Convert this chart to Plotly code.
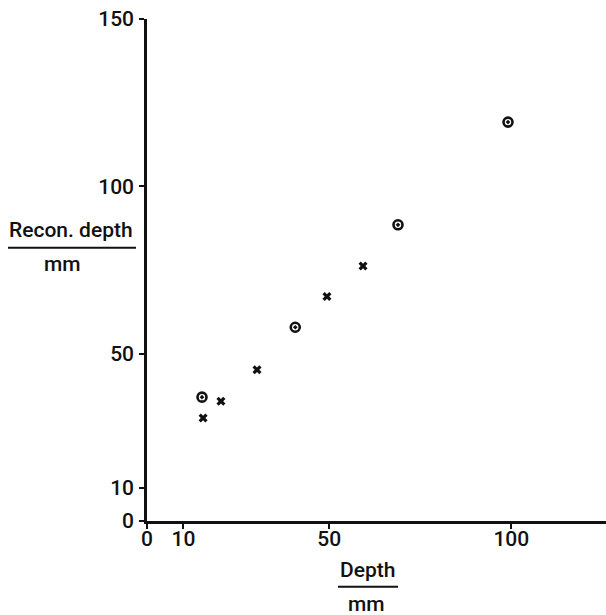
import plotly.graph_objects as go

# Data
circle_x = [15.1, 40.7, 68.9, 99.1]
circle_y = [37.0, 57.9, 88.5, 119.2]
cross_x = [15.4, 20.3, 30.2, 49.4, 59.3]
cross_y = [30.8, 35.8, 45.2, 67.1, 76.2]

x_ticks = [0, 10, 50, 100]
y_ticks = [0, 10, 50, 100, 150]

W, H = 606, 615
ML, MR, MT, MB = 147, 0, 19, 94
PW, PH = W - ML - MR, H - MT - MB

def px(p):
    return (p - ML) / PW

def py(p):
    return (H - MB - p) / PH

FONT = "Roboto"
INK = "#111111"
FS = 21
WEIGHT = 500

fig = go.Figure()
fig.add_trace(go.Scatter(
    x=circle_x, y=circle_y, mode="markers",
    marker=dict(symbol="circle-open-dot", size=9, color=INK,
                line=dict(width=2.6, color=INK)),
    showlegend=False, hoverinfo="skip"))
fig.add_trace(go.Scatter(
    x=cross_x, y=cross_y, mode="markers",
    marker=dict(symbol="x", size=8, color=INK, line=dict(width=0)),
    showlegend=False, hoverinfo="skip"))

tick_font = dict(family=FONT, size=FS, color=INK, weight=WEIGHT)
axis_common = dict(showgrid=False, zeroline=False, showline=True,
                   linecolor=INK, linewidth=2.5, ticks="outside",
                   ticklen=5, tickwidth=1.5, tickcolor=INK,
                   tickfont=tick_font)
fig.update_xaxes(range=[0, 126], tickmode="array", tickvals=x_ticks,
                 ticktext=[str(v) for v in x_ticks], ticklabelstandoff=-8,
                 **axis_common)
fig.update_yaxes(range=[0, 150], tickmode="array", tickvals=y_ticks,
                 ticktext=[str(v) for v in y_ticks], ticklabelstandoff=1,
                 **axis_common)

ann_font = dict(family=FONT, size=FS, color=INK, weight=WEIGHT)
annotations = [
    dict(text="Recon. depth", x=px(71), y=py(230), xref="paper", yref="paper",
         showarrow=False, xanchor="center", yanchor="middle", font=ann_font),
    dict(text="mm", x=px(62), y=py(264), xref="paper", yref="paper",
         showarrow=False, xanchor="center", yanchor="middle", font=ann_font),
    dict(text="Depth", x=px(367), y=py(570), xref="paper", yref="paper",
         showarrow=False, xanchor="center", yanchor="middle", font=ann_font),
    dict(text="mm", x=px(366), y=py(604), xref="paper", yref="paper",
         showarrow=False, xanchor="center", yanchor="middle", font=ann_font),
]
shapes = [
    dict(type="line", xref="paper", yref="paper", x0=px(8), x1=px(136),
         y0=py(247.7), y1=py(247.7), line=dict(color=INK, width=2)),
    dict(type="line", xref="paper", yref="paper", x0=px(338), x1=px(398),
         y0=py(586.7), y1=py(586.7), line=dict(color=INK, width=2)),
]

fig.update_layout(width=W, height=H,
                  margin=dict(l=ML, r=MR, t=MT, b=MB, pad=0),
                  paper_bgcolor="white", plot_bgcolor="white",
                  annotations=annotations, shapes=shapes)

fig.write_html("out.html")
